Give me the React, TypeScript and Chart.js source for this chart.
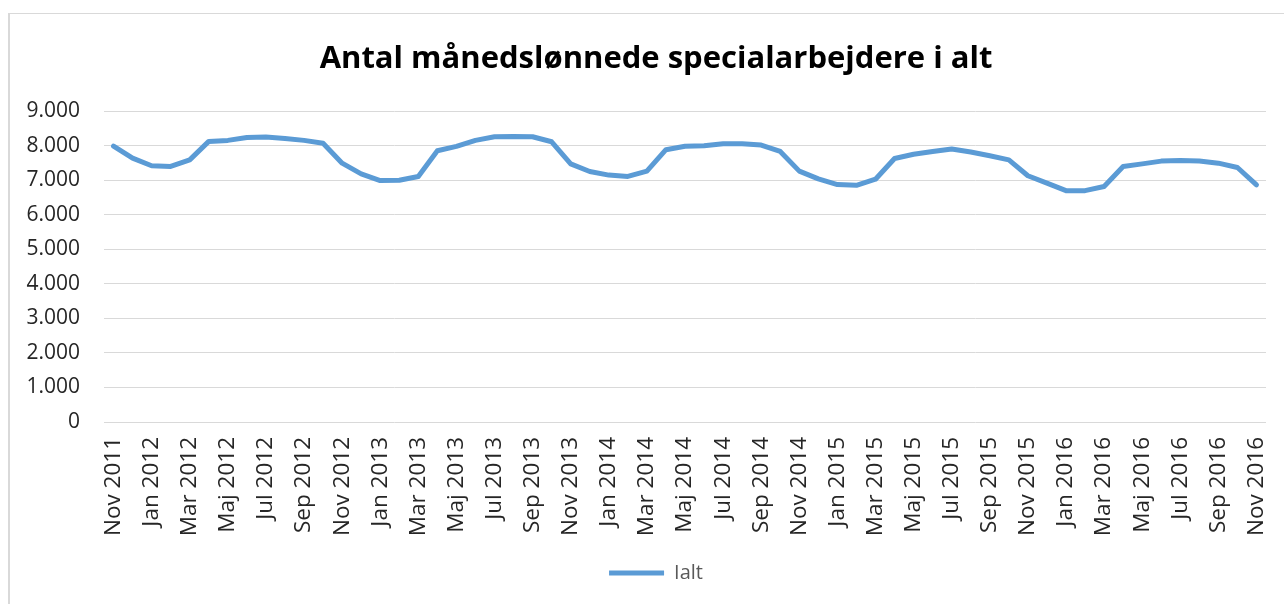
import React, { useEffect, useRef } from "react";
import { Chart, registerables } from "chart.js";

Chart.register(...registerables);

const TITLE = "Antal månedslønnede specialarbejdere i alt";
const SERIES_LABEL = "Ialt";

const categories = [
  "Nov 2011", "Dec 2011",
  "Jan 2012", "Feb 2012", "Mar 2012", "Apr 2012", "Maj 2012", "Jun 2012",
  "Jul 2012", "Aug 2012", "Sep 2012", "Okt 2012", "Nov 2012", "Dec 2012",
  "Jan 2013", "Feb 2013", "Mar 2013", "Apr 2013", "Maj 2013", "Jun 2013",
  "Jul 2013", "Aug 2013", "Sep 2013", "Okt 2013", "Nov 2013", "Dec 2013",
  "Jan 2014", "Feb 2014", "Mar 2014", "Apr 2014", "Maj 2014", "Jun 2014",
  "Jul 2014", "Aug 2014", "Sep 2014", "Okt 2014", "Nov 2014", "Dec 2014",
  "Jan 2015", "Feb 2015", "Mar 2015", "Apr 2015", "Maj 2015", "Jun 2015",
  "Jul 2015", "Aug 2015", "Sep 2015", "Okt 2015", "Nov 2015", "Dec 2015",
  "Jan 2016", "Feb 2016", "Mar 2016", "Apr 2016", "Maj 2016", "Jun 2016",
  "Jul 2016", "Aug 2016", "Sep 2016", "Okt 2016", "Nov 2016",
];

const ialt = [
  7990, 7640,
  7420, 7400, 7590, 8125, 8155, 8240, 8250, 8210, 8155, 8070, 7495, 7185,
  6990, 7000, 7110, 7855, 7980, 8155, 8260, 8270, 8260, 8115, 7475, 7255,
  7150, 7110, 7265, 7885, 7985, 8000, 8060, 8060, 8020, 7835, 7265, 7040,
  6875, 6855, 7030, 7630, 7755, 7835, 7905, 7820, 7710, 7590, 7130, 6915,
  6700, 6700, 6820, 7400, 7475, 7555, 7575, 7555, 7495, 7370, 6865,
];

const Y_MIN = 0;
const Y_MAX = 9000;
const Y_STEP = 1000;

const FONT = "'Open Sans', 'Noto Sans', sans-serif";

function formatThousands(v: number): string {
  const s = String(Math.round(v));
  return s.replace(/\B(?=(\d{3})+(?!\d))/g, ".");
}

export default function App() {
  const ref = useRef<HTMLCanvasElement>(null);

  useEffect(() => {
    if (!ref.current) return;
    const chart = new Chart(ref.current, {
      type: "line",
      data: {
        labels: categories,
        datasets: [
          {
            label: SERIES_LABEL,
            data: ialt,
            borderColor: "#5b9bd5",
            backgroundColor: "#5b9bd5",
            borderWidth: 5,
            pointRadius: 0,
            pointHoverRadius: 0,
            tension: 0,
            borderJoinStyle: "round",
            borderCapStyle: "round",
            fill: false,
            yAxisID: "y",
          },
        ],
      },
      options: {
        responsive: false,
        animation: false,
        layout: { padding: { left: 0, right: 0, top: 0, bottom: 21 } },
        plugins: {
          title: {
            display: true,
            text: TITLE,
            color: "#000000",
            font: { family: FONT, size: 31, weight: "bold" },
            padding: { top: 27, bottom: 33 },
          },
          legend: {
            display: true,
            position: "bottom",
            labels: {
              usePointStyle: true,
              pointStyle: "line",
              pointStyleWidth: 55,
              color: "#595959",
              font: { family: FONT, size: 20 },
              padding: 10,
            },
          },
          tooltip: { enabled: false },
        },
        scales: {
          x: {
            offset: true,
            grid: { display: false, drawTicks: false },
            border: { display: false },
            ticks: {
              autoSkip: false,
              minRotation: 90,
              maxRotation: 90,
              padding: 15,
              color: "#262626",
              font: { family: FONT, size: 22.5 },
              callback: (_v, i) => (i % 2 === 0 ? categories[i] : ""),
            },
            afterFit: (scale: any) => {
              scale.height = 131;
            },
          },
          y: {
            position: "left",
            min: Y_MIN,
            max: Y_MAX,
            grid: { color: "#d9d9d9", lineWidth: 1, drawTicks: false },
            border: { display: false },
            ticks: {
              stepSize: Y_STEP,
              padding: 24,
              color: "#262626",
              font: { family: FONT, size: 21 },
              callback: (v) => formatThousands(Number(v)),
            },
            afterFit: (scale: any) => {
              scale.width = 94;
            },
          },
          yRight: {
            position: "right",
            display: true,
            min: Y_MIN,
            max: Y_MAX,
            grid: { display: false, drawTicks: false },
            border: { display: false },
            ticks: { display: false },
            afterFit: (scale: any) => {
              scale.width = 36;
            },
          },
        },
      },
    });
    return () => chart.destroy();
  }, []);

  return (
    <div
      style={{
        position: "fixed",
        left: 8,
        top: 13,
        width: 1292,
        height: 600,
        borderTop: "1px solid #d9d9d9",
        borderLeft: "2px solid #d9d9d9",
        background: "#ffffff",
      }}
    >
      <canvas
        ref={ref}
        width={1292}
        height={600}
        style={{ display: "block", width: 1292, height: 600 }}
      />
    </div>
  );
}
